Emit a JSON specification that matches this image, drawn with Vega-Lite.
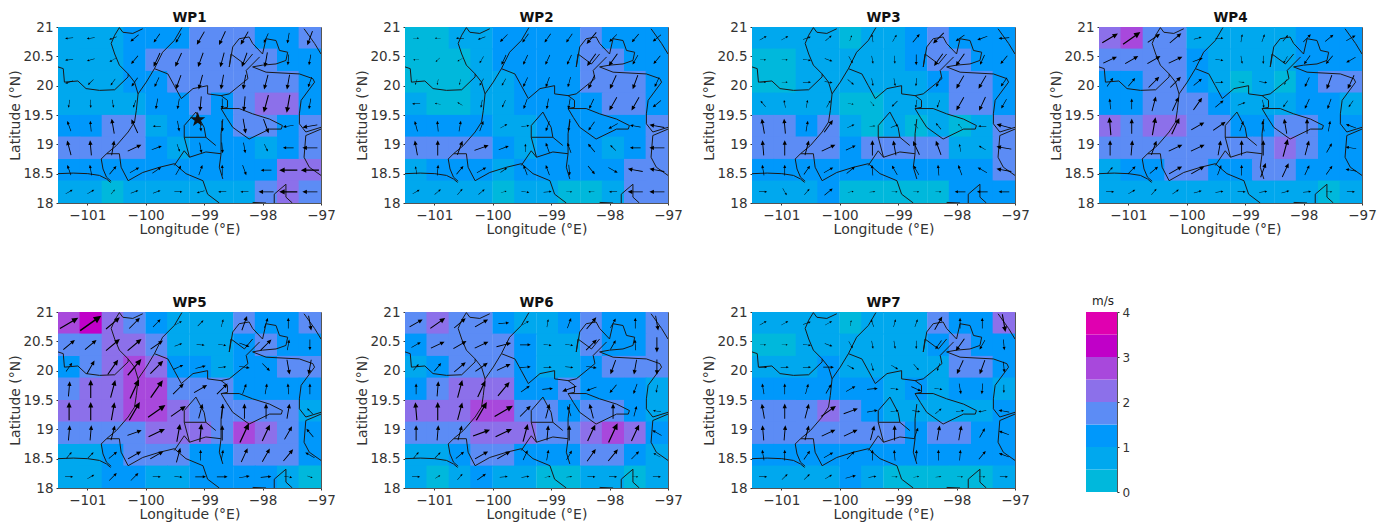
{"$schema":"https://vega.github.io/schema/vega-lite/v6.json","padding":{"left":8,"top":10,"right":5,"bottom":5},"background":"white","columns":4,"align":"none","bounds":"full","spacing":{"row":58,"column":19},
"config":{"font":"DejaVu Sans","view":{"stroke":"#555555","strokeWidth":1},"axis":{"grid":false,"labelFont":"DejaVu Sans","titleFont":"DejaVu Sans","labelFontSize":13.5,"titleFontSize":14,"titleFontWeight":"normal","labelColor":"#333333","titleColor":"#333333","domainColor":"#555555","tickColor":"#333333","tickSize":2,"labelPadding":3,"labelFlush":false,"labelOverlap":false},"axisX":{"titlePadding":1},"axisY":{"titlePadding":0},"title":{"font":"DejaVu Sans","fontSize":13.5,"fontWeight":"bold","color":"#111111","offset":-4}},
"datasets":{
"borders":[
{"id":1,"lon":-100.45,"lat":20.99},{"id":1,"lon":-100.53,"lat":20.86},{"id":1,"lon":-100.59,"lat":20.72},{"id":1,"lon":-100.53,"lat":20.54},{"id":1,"lon":-100.45,"lat":20.35},{"id":1,"lon":-100.3,"lat":20.2},{"id":1,"lon":-100.19,"lat":20.06},{"id":1,"lon":-100.13,"lat":19.86},{"id":1,"lon":-100.16,"lat":19.58},{"id":1,"lon":-100.19,"lat":19.38},{"id":1,"lon":-100.3,"lat":19.21},{"id":1,"lon":-100.5,"lat":18.98},{"id":1,"lon":-100.67,"lat":18.84},{"id":1,"lon":-100.76,"lat":18.75},{"id":1,"lon":-100.73,"lat":18.58},{"id":1,"lon":-100.67,"lat":18.44},{"id":1,"lon":-100.59,"lat":18.37},
{"id":2,"lon":-101.5,"lat":18.5},{"id":2,"lon":-101.24,"lat":18.51},{"id":2,"lon":-100.99,"lat":18.5},{"id":2,"lon":-100.79,"lat":18.47},{"id":2,"lon":-100.67,"lat":18.41},{"id":2,"lon":-100.6,"lat":18.35},
{"id":3,"lon":-101.5,"lat":20.32},{"id":3,"lon":-101.41,"lat":20.29},{"id":3,"lon":-101.39,"lat":20.06},{"id":3,"lon":-101.16,"lat":20.08},{"id":3,"lon":-101.02,"lat":19.95},{"id":3,"lon":-100.79,"lat":19.92},{"id":3,"lon":-100.53,"lat":19.93},{"id":3,"lon":-100.3,"lat":20.15},{"id":3,"lon":-100.3,"lat":20.2},
{"id":4,"lon":-100.13,"lat":19.86},{"id":4,"lon":-99.99,"lat":20.06},{"id":4,"lon":-99.85,"lat":20.29},{"id":4,"lon":-99.62,"lat":20.2},{"id":4,"lon":-99.51,"lat":20.0},{"id":4,"lon":-99.39,"lat":19.78},{"id":4,"lon":-99.19,"lat":19.95},{"id":4,"lon":-98.94,"lat":20.0},{"id":4,"lon":-98.94,"lat":19.86},{"id":4,"lon":-98.71,"lat":19.83},{"id":4,"lon":-98.6,"lat":19.75},{"id":4,"lon":-98.6,"lat":19.63},{"id":4,"lon":-98.71,"lat":19.61},{"id":4,"lon":-98.4,"lat":19.61},{"id":4,"lon":-98.17,"lat":19.52},{"id":4,"lon":-97.88,"lat":19.43},{"id":4,"lon":-97.66,"lat":19.32},{"id":4,"lon":-97.68,"lat":19.26},{"id":4,"lon":-97.88,"lat":19.26},{"id":4,"lon":-98.23,"lat":19.09},{"id":4,"lon":-98.51,"lat":19.29},{"id":4,"lon":-98.62,"lat":19.46},{"id":4,"lon":-98.71,"lat":19.61},
{"id":5,"lon":-99.34,"lat":19.12},{"id":5,"lon":-99.34,"lat":19.32},{"id":5,"lon":-99.14,"lat":19.55},{"id":5,"lon":-99.05,"lat":19.38},{"id":5,"lon":-99.0,"lat":19.29},{"id":5,"lon":-98.97,"lat":19.12},{"id":5,"lon":-98.8,"lat":18.98},
{"id":6,"lon":-98.97,"lat":19.12},{"id":6,"lon":-99.34,"lat":19.12},{"id":6,"lon":-99.25,"lat":18.78},{"id":6,"lon":-98.97,"lat":18.87},{"id":6,"lon":-98.71,"lat":18.84},
{"id":7,"lon":-99.51,"lat":18.64},{"id":7,"lon":-99.34,"lat":18.89},{"id":7,"lon":-99.25,"lat":18.78},
{"id":8,"lon":-98.68,"lat":19.43},{"id":8,"lon":-98.71,"lat":19.18},{"id":8,"lon":-98.71,"lat":18.84},{"id":8,"lon":-98.74,"lat":18.61},{"id":8,"lon":-98.68,"lat":18.41},
{"id":9,"lon":-100.67,"lat":18.84},{"id":9,"lon":-100.45,"lat":18.84},{"id":9,"lon":-100.42,"lat":18.61},{"id":9,"lon":-100.3,"lat":18.38},{"id":9,"lon":-100.05,"lat":18.52},{"id":9,"lon":-99.76,"lat":18.61},{"id":9,"lon":-99.51,"lat":18.67},{"id":9,"lon":-99.31,"lat":18.5},{"id":9,"lon":-99.02,"lat":18.38},{"id":9,"lon":-98.94,"lat":18.15},{"id":9,"lon":-98.74,"lat":18.0},
{"id":10,"lon":-99.38,"lat":20.99},{"id":10,"lon":-99.51,"lat":20.77},{"id":10,"lon":-99.71,"lat":20.57},{"id":10,"lon":-99.85,"lat":20.29},
{"id":11,"lon":-100.45,"lat":20.99},{"id":11,"lon":-100.39,"lat":20.91},{"id":11,"lon":-100.22,"lat":20.89},{"id":11,"lon":-100.05,"lat":20.97},
{"id":12,"lon":-98.57,"lat":20.32},{"id":12,"lon":-98.51,"lat":20.66},{"id":12,"lon":-98.4,"lat":20.8},{"id":12,"lon":-98.23,"lat":20.83},{"id":12,"lon":-98.17,"lat":20.72},{"id":12,"lon":-98.0,"lat":20.54},{"id":12,"lon":-97.94,"lat":20.8},{"id":12,"lon":-97.77,"lat":20.77},{"id":12,"lon":-97.71,"lat":20.6},{"id":12,"lon":-97.57,"lat":20.57},{"id":12,"lon":-97.6,"lat":20.43},{"id":12,"lon":-97.77,"lat":20.37},{"id":12,"lon":-98.0,"lat":20.35},{"id":12,"lon":-98.17,"lat":20.32},{"id":12,"lon":-97.94,"lat":20.23},{"id":12,"lon":-97.37,"lat":20.2},{"id":12,"lon":-97.14,"lat":20.12},{"id":12,"lon":-97.11,"lat":20.06},{"id":12,"lon":-97.34,"lat":19.75},{"id":12,"lon":-97.37,"lat":19.52},{"id":12,"lon":-97.37,"lat":19.35},{"id":12,"lon":-97.26,"lat":19.21},{"id":12,"lon":-97.0,"lat":19.29},
{"id":13,"lon":-98.57,"lat":20.32},{"id":13,"lon":-98.54,"lat":20.54},{"id":13,"lon":-98.31,"lat":20.37},{"id":13,"lon":-98.17,"lat":20.54},
{"id":14,"lon":-98.05,"lat":20.49},{"id":14,"lon":-98.28,"lat":20.26},{"id":14,"lon":-98.25,"lat":20.12},{"id":14,"lon":-98.57,"lat":19.86},{"id":14,"lon":-98.71,"lat":19.83},
{"id":15,"lon":-97.0,"lat":19.26},{"id":15,"lon":-97.26,"lat":19.15},{"id":15,"lon":-97.29,"lat":18.78},{"id":15,"lon":-97.2,"lat":18.61},{"id":15,"lon":-97.0,"lat":18.47},
{"id":16,"lon":-97.29,"lat":20.97},{"id":16,"lon":-97.11,"lat":20.72},{"id":16,"lon":-97.0,"lat":20.54},
{"id":17,"lon":-97.8,"lat":18.0},{"id":17,"lon":-97.8,"lat":18.15},{"id":17,"lon":-97.6,"lat":18.32},{"id":17,"lon":-97.6,"lat":18.1},{"id":17,"lon":-97.49,"lat":18.0},
{"id":18,"lon":-98.17,"lat":18.01},{"id":18,"lon":-97.94,"lat":18.0}],
"WP1":[
{"lon":-101.31,"lat":20.81,"s":0.8,"d":265},{"lon":-100.94,"lat":20.81,"s":0.8,"d":260},{"lon":-100.56,"lat":20.81,"s":0.8,"d":250},{"lon":-100.19,"lat":20.81,"s":1.2,"d":230},{"lon":-99.81,"lat":20.81,"s":1.2,"d":215},{"lon":-99.44,"lat":20.81,"s":1.2,"d":210},{"lon":-99.06,"lat":20.81,"s":1.8,"d":210},{"lon":-98.69,"lat":20.81,"s":1.8,"d":205},{"lon":-98.31,"lat":20.81,"s":1.8,"d":210},{"lon":-97.94,"lat":20.81,"s":1.2,"d":205},{"lon":-97.56,"lat":20.81,"s":1.2,"d":190},{"lon":-97.19,"lat":20.81,"s":1.8,"d":200},
{"lon":-101.31,"lat":20.44,"s":0.8,"d":265},{"lon":-100.94,"lat":20.44,"s":0.8,"d":255},{"lon":-100.56,"lat":20.44,"s":0.8,"d":240},{"lon":-100.19,"lat":20.44,"s":1.2,"d":220},{"lon":-99.81,"lat":20.44,"s":1.8,"d":205},{"lon":-99.44,"lat":20.44,"s":1.8,"d":205},{"lon":-99.06,"lat":20.44,"s":1.8,"d":200},{"lon":-98.69,"lat":20.44,"s":1.8,"d":195},{"lon":-98.31,"lat":20.44,"s":1.8,"d":200},{"lon":-97.94,"lat":20.44,"s":1.8,"d":190},{"lon":-97.56,"lat":20.44,"s":1.2,"d":185},{"lon":-97.19,"lat":20.44,"s":1.2,"d":190},
{"lon":-101.31,"lat":20.06,"s":0.8,"d":250},{"lon":-100.94,"lat":20.06,"s":0.8,"d":225},{"lon":-100.56,"lat":20.06,"s":0.8,"d":215},{"lon":-100.19,"lat":20.06,"s":1.2,"d":215},{"lon":-99.81,"lat":20.06,"s":1.2,"d":205},{"lon":-99.44,"lat":20.06,"s":1.8,"d":200},{"lon":-99.06,"lat":20.06,"s":1.8,"d":195},{"lon":-98.69,"lat":20.06,"s":1.8,"d":190},{"lon":-98.31,"lat":20.06,"s":1.8,"d":190},{"lon":-97.94,"lat":20.06,"s":1.8,"d":195},{"lon":-97.56,"lat":20.06,"s":1.8,"d":190},{"lon":-97.19,"lat":20.06,"s":1.2,"d":200},
{"lon":-101.31,"lat":19.69,"s":0.8,"d":190},{"lon":-100.94,"lat":19.69,"s":0.8,"d":180},{"lon":-100.56,"lat":19.69,"s":0.8,"d":170},{"lon":-100.19,"lat":19.69,"s":0.8,"d":200},{"lon":-99.81,"lat":19.69,"s":1.2,"d":190},{"lon":-99.44,"lat":19.69,"s":1.2,"d":190},{"lon":-99.06,"lat":19.69,"s":1.8,"d":185},{"lon":-98.69,"lat":19.69,"s":1.2,"d":180},{"lon":-98.31,"lat":19.69,"s":1.8,"d":185},{"lon":-97.94,"lat":19.69,"s":2.2,"d":195},{"lon":-97.56,"lat":19.69,"s":2.2,"d":190},{"lon":-97.19,"lat":19.69,"s":1.2,"d":190},
{"lon":-101.31,"lat":19.31,"s":1.2,"d":340},{"lon":-100.94,"lat":19.31,"s":1.2,"d":355},{"lon":-100.56,"lat":19.31,"s":1.8,"d":350},{"lon":-100.19,"lat":19.31,"s":1.8,"d":335},{"lon":-99.81,"lat":19.31,"s":0.8,"d":270},{"lon":-99.44,"lat":19.31,"s":1.2,"d":170},{"lon":-99.06,"lat":19.31,"s":1.2,"d":175},{"lon":-98.69,"lat":19.31,"s":1.2,"d":175},{"lon":-98.31,"lat":19.31,"s":1.8,"d":170},{"lon":-97.94,"lat":19.31,"s":1.8,"d":160},{"lon":-97.56,"lat":19.31,"s":1.2,"d":260},{"lon":-97.19,"lat":19.31,"s":1.8,"d":260},
{"lon":-101.31,"lat":18.94,"s":1.8,"d":345},{"lon":-100.94,"lat":18.94,"s":1.8,"d":355},{"lon":-100.56,"lat":18.94,"s":1.8,"d":10},{"lon":-100.19,"lat":18.94,"s":1.8,"d":65},{"lon":-99.81,"lat":18.94,"s":1.2,"d":70},{"lon":-99.44,"lat":18.94,"s":0.8,"d":160},{"lon":-99.06,"lat":18.94,"s":1.2,"d":170},{"lon":-98.69,"lat":18.94,"s":1.2,"d":175},{"lon":-98.31,"lat":18.94,"s":1.2,"d":170},{"lon":-97.94,"lat":18.94,"s":0.8,"d":155},{"lon":-97.56,"lat":18.94,"s":1.2,"d":270},{"lon":-97.19,"lat":18.94,"s":1.8,"d":270},
{"lon":-101.31,"lat":18.56,"s":1.2,"d":340},{"lon":-100.94,"lat":18.56,"s":1.2,"d":350},{"lon":-100.56,"lat":18.56,"s":1.2,"d":40},{"lon":-100.19,"lat":18.56,"s":1.2,"d":60},{"lon":-99.81,"lat":18.56,"s":1.2,"d":55},{"lon":-99.44,"lat":18.56,"s":1.2,"d":30},{"lon":-99.06,"lat":18.56,"s":1.2,"d":20},{"lon":-98.69,"lat":18.56,"s":1.2,"d":0},{"lon":-98.31,"lat":18.56,"s":1.2,"d":160},{"lon":-97.94,"lat":18.56,"s":1.2,"d":270},{"lon":-97.56,"lat":18.56,"s":2.2,"d":270},{"lon":-97.19,"lat":18.56,"s":2.2,"d":270},
{"lon":-101.31,"lat":18.19,"s":0.8,"d":60},{"lon":-100.94,"lat":18.19,"s":0.8,"d":60},{"lon":-100.56,"lat":18.19,"s":0.4,"d":40},{"lon":-100.19,"lat":18.19,"s":0.8,"d":70},{"lon":-99.81,"lat":18.19,"s":0.8,"d":70},{"lon":-99.44,"lat":18.19,"s":0.8,"d":90},{"lon":-99.06,"lat":18.19,"s":0.8,"d":255},{"lon":-98.69,"lat":18.19,"s":0.8,"d":270},{"lon":-98.31,"lat":18.19,"s":0.8,"d":270},{"lon":-97.94,"lat":18.19,"s":1.8,"d":270},{"lon":-97.56,"lat":18.19,"s":2.2,"d":270},{"lon":-97.19,"lat":18.19,"s":1.8,"d":270}],
"WP2":[
{"lon":-101.31,"lat":20.81,"s":0.4,"d":90},{"lon":-100.94,"lat":20.81,"s":0.4,"d":270},{"lon":-100.56,"lat":20.81,"s":0.8,"d":270},{"lon":-100.19,"lat":20.81,"s":0.8,"d":250},{"lon":-99.81,"lat":20.81,"s":1.2,"d":225},{"lon":-99.44,"lat":20.81,"s":1.2,"d":215},{"lon":-99.06,"lat":20.81,"s":1.2,"d":215},{"lon":-98.69,"lat":20.81,"s":1.2,"d":215},{"lon":-98.31,"lat":20.81,"s":1.8,"d":220},{"lon":-97.94,"lat":20.81,"s":1.2,"d":225},{"lon":-97.56,"lat":20.81,"s":1.2,"d":220},{"lon":-97.19,"lat":20.81,"s":1.2,"d":230},
{"lon":-101.31,"lat":20.44,"s":0.4,"d":270},{"lon":-100.94,"lat":20.44,"s":0.4,"d":225},{"lon":-100.56,"lat":20.44,"s":0.4,"d":240},{"lon":-100.19,"lat":20.44,"s":0.8,"d":210},{"lon":-99.81,"lat":20.44,"s":1.2,"d":205},{"lon":-99.44,"lat":20.44,"s":1.2,"d":205},{"lon":-99.06,"lat":20.44,"s":1.2,"d":205},{"lon":-98.69,"lat":20.44,"s":1.2,"d":205},{"lon":-98.31,"lat":20.44,"s":1.8,"d":215},{"lon":-97.94,"lat":20.44,"s":1.8,"d":215},{"lon":-97.56,"lat":20.44,"s":1.2,"d":210},{"lon":-97.19,"lat":20.44,"s":1.2,"d":220},
{"lon":-101.31,"lat":20.06,"s":0.4,"d":200},{"lon":-100.94,"lat":20.06,"s":0.4,"d":190},{"lon":-100.56,"lat":20.06,"s":0.4,"d":190},{"lon":-100.19,"lat":20.06,"s":0.8,"d":210},{"lon":-99.81,"lat":20.06,"s":0.8,"d":210},{"lon":-99.44,"lat":20.06,"s":1.2,"d":205},{"lon":-99.06,"lat":20.06,"s":1.2,"d":200},{"lon":-98.69,"lat":20.06,"s":1.2,"d":195},{"lon":-98.31,"lat":20.06,"s":1.8,"d":205},{"lon":-97.94,"lat":20.06,"s":1.8,"d":205},{"lon":-97.56,"lat":20.06,"s":1.8,"d":200},{"lon":-97.19,"lat":20.06,"s":1.2,"d":205},
{"lon":-101.31,"lat":19.69,"s":0.8,"d":270},{"lon":-100.94,"lat":19.69,"s":0.4,"d":280},{"lon":-100.56,"lat":19.69,"s":0.4,"d":300},{"lon":-100.19,"lat":19.69,"s":0.8,"d":190},{"lon":-99.81,"lat":19.69,"s":0.8,"d":205},{"lon":-99.44,"lat":19.69,"s":1.2,"d":200},{"lon":-99.06,"lat":19.69,"s":1.2,"d":190},{"lon":-98.69,"lat":19.69,"s":1.2,"d":190},{"lon":-98.31,"lat":19.69,"s":1.2,"d":205},{"lon":-97.94,"lat":19.69,"s":1.8,"d":210},{"lon":-97.56,"lat":19.69,"s":1.8,"d":210},{"lon":-97.19,"lat":19.69,"s":1.2,"d":230},
{"lon":-101.31,"lat":19.31,"s":1.2,"d":345},{"lon":-100.94,"lat":19.31,"s":1.2,"d":355},{"lon":-100.56,"lat":19.31,"s":1.2,"d":10},{"lon":-100.19,"lat":19.31,"s":1.2,"d":20},{"lon":-99.81,"lat":19.31,"s":0.8,"d":60},{"lon":-99.44,"lat":19.31,"s":0.8,"d":80},{"lon":-99.06,"lat":19.31,"s":1.2,"d":200},{"lon":-98.69,"lat":19.31,"s":1.2,"d":190},{"lon":-98.31,"lat":19.31,"s":1.2,"d":215},{"lon":-97.94,"lat":19.31,"s":1.2,"d":240},{"lon":-97.56,"lat":19.31,"s":1.2,"d":280},{"lon":-97.19,"lat":19.31,"s":1.8,"d":280},
{"lon":-101.31,"lat":18.94,"s":1.8,"d":350},{"lon":-100.94,"lat":18.94,"s":1.8,"d":0},{"lon":-100.56,"lat":18.94,"s":1.8,"d":20},{"lon":-100.19,"lat":18.94,"s":1.8,"d":70},{"lon":-99.81,"lat":18.94,"s":1.2,"d":70},{"lon":-99.44,"lat":18.94,"s":0.8,"d":0},{"lon":-99.06,"lat":18.94,"s":1.2,"d":340},{"lon":-98.69,"lat":18.94,"s":1.2,"d":340},{"lon":-98.31,"lat":18.94,"s":1.2,"d":320},{"lon":-97.94,"lat":18.94,"s":0.8,"d":315},{"lon":-97.56,"lat":18.94,"s":1.2,"d":270},{"lon":-97.19,"lat":18.94,"s":1.8,"d":270},
{"lon":-101.31,"lat":18.56,"s":0.8,"d":350},{"lon":-100.94,"lat":18.56,"s":1.2,"d":5},{"lon":-100.56,"lat":18.56,"s":1.2,"d":40},{"lon":-100.19,"lat":18.56,"s":1.2,"d":60},{"lon":-99.81,"lat":18.56,"s":0.8,"d":55},{"lon":-99.44,"lat":18.56,"s":1.2,"d":340},{"lon":-99.06,"lat":18.56,"s":1.2,"d":340},{"lon":-98.69,"lat":18.56,"s":1.2,"d":175},{"lon":-98.31,"lat":18.56,"s":1.2,"d":140},{"lon":-97.94,"lat":18.56,"s":1.2,"d":120},{"lon":-97.56,"lat":18.56,"s":1.8,"d":280},{"lon":-97.19,"lat":18.56,"s":1.8,"d":280},
{"lon":-101.31,"lat":18.19,"s":0.8,"d":60},{"lon":-100.94,"lat":18.19,"s":0.8,"d":50},{"lon":-100.56,"lat":18.19,"s":0.8,"d":40},{"lon":-100.19,"lat":18.19,"s":0.8,"d":50},{"lon":-99.81,"lat":18.19,"s":0.4,"d":75},{"lon":-99.44,"lat":18.19,"s":0.8,"d":100},{"lon":-99.06,"lat":18.19,"s":0.8,"d":85},{"lon":-98.69,"lat":18.19,"s":0.4,"d":90},{"lon":-98.31,"lat":18.19,"s":0.4,"d":270},{"lon":-97.94,"lat":18.19,"s":0.8,"d":270},{"lon":-97.56,"lat":18.19,"s":1.8,"d":270},{"lon":-97.19,"lat":18.19,"s":1.8,"d":270}],
"WP3":[
{"lon":-101.31,"lat":20.81,"s":0.8,"d":60},{"lon":-100.94,"lat":20.81,"s":0.8,"d":60},{"lon":-100.56,"lat":20.81,"s":0.8,"d":70},{"lon":-100.19,"lat":20.81,"s":0.8,"d":50},{"lon":-99.81,"lat":20.81,"s":0.4,"d":20},{"lon":-99.44,"lat":20.81,"s":0.8,"d":350},{"lon":-99.06,"lat":20.81,"s":0.8,"d":30},{"lon":-98.69,"lat":20.81,"s":1.2,"d":40},{"lon":-98.31,"lat":20.81,"s":1.8,"d":225},{"lon":-97.94,"lat":20.81,"s":1.2,"d":235},{"lon":-97.56,"lat":20.81,"s":1.2,"d":250},{"lon":-97.19,"lat":20.81,"s":1.2,"d":265},
{"lon":-101.31,"lat":20.44,"s":0.4,"d":90},{"lon":-100.94,"lat":20.44,"s":0.4,"d":90},{"lon":-100.56,"lat":20.44,"s":0.8,"d":100},{"lon":-100.19,"lat":20.44,"s":0.8,"d":110},{"lon":-99.81,"lat":20.44,"s":0.8,"d":150},{"lon":-99.44,"lat":20.44,"s":0.8,"d":170},{"lon":-99.06,"lat":20.44,"s":0.8,"d":175},{"lon":-98.69,"lat":20.44,"s":1.2,"d":180},{"lon":-98.31,"lat":20.44,"s":1.8,"d":215},{"lon":-97.94,"lat":20.44,"s":1.8,"d":215},{"lon":-97.56,"lat":20.44,"s":1.2,"d":205},{"lon":-97.19,"lat":20.44,"s":1.2,"d":220},
{"lon":-101.31,"lat":20.06,"s":0.4,"d":90},{"lon":-100.94,"lat":20.06,"s":0.4,"d":90},{"lon":-100.56,"lat":20.06,"s":0.8,"d":90},{"lon":-100.19,"lat":20.06,"s":0.8,"d":100},{"lon":-99.81,"lat":20.06,"s":0.8,"d":130},{"lon":-99.44,"lat":20.06,"s":0.8,"d":170},{"lon":-99.06,"lat":20.06,"s":0.8,"d":170},{"lon":-98.69,"lat":20.06,"s":0.8,"d":185},{"lon":-98.31,"lat":20.06,"s":1.2,"d":205},{"lon":-97.94,"lat":20.06,"s":1.8,"d":210},{"lon":-97.56,"lat":20.06,"s":1.8,"d":210},{"lon":-97.19,"lat":20.06,"s":1.2,"d":215},
{"lon":-101.31,"lat":19.69,"s":0.8,"d":320},{"lon":-100.94,"lat":19.69,"s":0.8,"d":350},{"lon":-100.56,"lat":19.69,"s":0.8,"d":10},{"lon":-100.19,"lat":19.69,"s":0.8,"d":30},{"lon":-99.81,"lat":19.69,"s":0.4,"d":100},{"lon":-99.44,"lat":19.69,"s":0.4,"d":140},{"lon":-99.06,"lat":19.69,"s":0.8,"d":225},{"lon":-98.69,"lat":19.69,"s":0.8,"d":190},{"lon":-98.31,"lat":19.69,"s":0.8,"d":200},{"lon":-97.94,"lat":19.69,"s":1.8,"d":210},{"lon":-97.56,"lat":19.69,"s":1.8,"d":205},{"lon":-97.19,"lat":19.69,"s":1.2,"d":210},
{"lon":-101.31,"lat":19.31,"s":1.8,"d":350},{"lon":-100.94,"lat":19.31,"s":1.8,"d":355},{"lon":-100.56,"lat":19.31,"s":1.2,"d":10},{"lon":-100.19,"lat":19.31,"s":1.8,"d":35},{"lon":-99.81,"lat":19.31,"s":0.8,"d":65},{"lon":-99.44,"lat":19.31,"s":0.4,"d":85},{"lon":-99.06,"lat":19.31,"s":0.8,"d":70},{"lon":-98.69,"lat":19.31,"s":0.4,"d":320},{"lon":-98.31,"lat":19.31,"s":0.8,"d":320},{"lon":-97.94,"lat":19.31,"s":0.4,"d":320},{"lon":-97.56,"lat":19.31,"s":0.8,"d":270},{"lon":-97.19,"lat":19.31,"s":1.8,"d":285},
{"lon":-101.31,"lat":18.94,"s":1.8,"d":355},{"lon":-100.94,"lat":18.94,"s":1.8,"d":0},{"lon":-100.56,"lat":18.94,"s":1.8,"d":15},{"lon":-100.19,"lat":18.94,"s":1.8,"d":65},{"lon":-99.81,"lat":18.94,"s":1.2,"d":65},{"lon":-99.44,"lat":18.94,"s":1.8,"d":0},{"lon":-99.06,"lat":18.94,"s":1.8,"d":350},{"lon":-98.69,"lat":18.94,"s":1.8,"d":335},{"lon":-98.31,"lat":18.94,"s":1.8,"d":340},{"lon":-97.94,"lat":18.94,"s":0.8,"d":350},{"lon":-97.56,"lat":18.94,"s":0.8,"d":300},{"lon":-97.19,"lat":18.94,"s":1.8,"d":280},
{"lon":-101.31,"lat":18.56,"s":1.2,"d":350},{"lon":-100.94,"lat":18.56,"s":1.2,"d":0},{"lon":-100.56,"lat":18.56,"s":1.2,"d":35},{"lon":-100.19,"lat":18.56,"s":1.2,"d":60},{"lon":-99.81,"lat":18.56,"s":1.2,"d":50},{"lon":-99.44,"lat":18.56,"s":1.2,"d":355},{"lon":-99.06,"lat":18.56,"s":1.2,"d":330},{"lon":-98.69,"lat":18.56,"s":1.2,"d":330},{"lon":-98.31,"lat":18.56,"s":1.2,"d":355},{"lon":-97.94,"lat":18.56,"s":1.2,"d":340},{"lon":-97.56,"lat":18.56,"s":1.2,"d":300},{"lon":-97.19,"lat":18.56,"s":1.8,"d":280},
{"lon":-101.31,"lat":18.19,"s":0.8,"d":90},{"lon":-100.94,"lat":18.19,"s":0.8,"d":150},{"lon":-100.56,"lat":18.19,"s":0.8,"d":40},{"lon":-100.19,"lat":18.19,"s":1.2,"d":50},{"lon":-99.81,"lat":18.19,"s":0.4,"d":80},{"lon":-99.44,"lat":18.19,"s":0.4,"d":85},{"lon":-99.06,"lat":18.19,"s":0.4,"d":90},{"lon":-98.69,"lat":18.19,"s":0.4,"d":90},{"lon":-98.31,"lat":18.19,"s":0.4,"d":90},{"lon":-97.94,"lat":18.19,"s":1.2,"d":270},{"lon":-97.56,"lat":18.19,"s":1.2,"d":270},{"lon":-97.19,"lat":18.19,"s":1.2,"d":270}],
"WP4":[
{"lon":-101.31,"lat":20.81,"s":2.2,"d":60},{"lon":-100.94,"lat":20.81,"s":2.6,"d":55},{"lon":-100.56,"lat":20.81,"s":1.8,"d":55},{"lon":-100.19,"lat":20.81,"s":1.8,"d":50},{"lon":-99.81,"lat":20.81,"s":0.8,"d":75},{"lon":-99.44,"lat":20.81,"s":0.8,"d":90},{"lon":-99.06,"lat":20.81,"s":0.8,"d":10},{"lon":-98.69,"lat":20.81,"s":0.8,"d":20},{"lon":-98.31,"lat":20.81,"s":0.8,"d":40},{"lon":-97.94,"lat":20.81,"s":1.2,"d":45},{"lon":-97.56,"lat":20.81,"s":1.2,"d":50},{"lon":-97.19,"lat":20.81,"s":1.2,"d":60},
{"lon":-101.31,"lat":20.44,"s":1.8,"d":65},{"lon":-100.94,"lat":20.44,"s":1.8,"d":60},{"lon":-100.56,"lat":20.44,"s":1.8,"d":60},{"lon":-100.19,"lat":20.44,"s":1.8,"d":65},{"lon":-99.81,"lat":20.44,"s":1.2,"d":70},{"lon":-99.44,"lat":20.44,"s":0.8,"d":100},{"lon":-99.06,"lat":20.44,"s":0.8,"d":170},{"lon":-98.69,"lat":20.44,"s":0.8,"d":180},{"lon":-98.31,"lat":20.44,"s":0.8,"d":210},{"lon":-97.94,"lat":20.44,"s":1.2,"d":215},{"lon":-97.56,"lat":20.44,"s":1.2,"d":220},{"lon":-97.19,"lat":20.44,"s":1.2,"d":240},
{"lon":-101.31,"lat":20.06,"s":1.2,"d":35},{"lon":-100.94,"lat":20.06,"s":1.2,"d":40},{"lon":-100.56,"lat":20.06,"s":1.8,"d":45},{"lon":-100.19,"lat":20.06,"s":1.8,"d":45},{"lon":-99.81,"lat":20.06,"s":1.2,"d":50},{"lon":-99.44,"lat":20.06,"s":0.8,"d":90},{"lon":-99.06,"lat":20.06,"s":0.4,"d":95},{"lon":-98.69,"lat":20.06,"s":0.8,"d":100},{"lon":-98.31,"lat":20.06,"s":0.4,"d":200},{"lon":-97.94,"lat":20.06,"s":1.2,"d":205},{"lon":-97.56,"lat":20.06,"s":1.8,"d":200},{"lon":-97.19,"lat":20.06,"s":1.8,"d":205},
{"lon":-101.31,"lat":19.69,"s":1.2,"d":355},{"lon":-100.94,"lat":19.69,"s":1.2,"d":0},{"lon":-100.56,"lat":19.69,"s":1.8,"d":15},{"lon":-100.19,"lat":19.69,"s":1.8,"d":25},{"lon":-99.81,"lat":19.69,"s":1.8,"d":35},{"lon":-99.44,"lat":19.69,"s":1.2,"d":50},{"lon":-99.06,"lat":19.69,"s":0.8,"d":70},{"lon":-98.69,"lat":19.69,"s":0.8,"d":170},{"lon":-98.31,"lat":19.69,"s":0.8,"d":215},{"lon":-97.94,"lat":19.69,"s":1.2,"d":205},{"lon":-97.56,"lat":19.69,"s":1.2,"d":200},{"lon":-97.19,"lat":19.69,"s":0.8,"d":215},
{"lon":-101.31,"lat":19.31,"s":2.2,"d":355},{"lon":-100.94,"lat":19.31,"s":1.8,"d":0},{"lon":-100.56,"lat":19.31,"s":2.2,"d":10},{"lon":-100.19,"lat":19.31,"s":2.2,"d":25},{"lon":-99.81,"lat":19.31,"s":1.8,"d":60},{"lon":-99.44,"lat":19.31,"s":1.8,"d":55},{"lon":-99.06,"lat":19.31,"s":1.2,"d":20},{"lon":-98.69,"lat":19.31,"s":1.2,"d":350},{"lon":-98.31,"lat":19.31,"s":1.8,"d":350},{"lon":-97.94,"lat":19.31,"s":1.8,"d":0},{"lon":-97.56,"lat":19.31,"s":1.2,"d":10},{"lon":-97.19,"lat":19.31,"s":1.2,"d":290},
{"lon":-101.31,"lat":18.94,"s":1.8,"d":0},{"lon":-100.94,"lat":18.94,"s":1.8,"d":5},{"lon":-100.56,"lat":18.94,"s":1.8,"d":20},{"lon":-100.19,"lat":18.94,"s":1.8,"d":65},{"lon":-99.81,"lat":18.94,"s":1.8,"d":65},{"lon":-99.44,"lat":18.94,"s":1.8,"d":10},{"lon":-99.06,"lat":18.94,"s":1.8,"d":0},{"lon":-98.69,"lat":18.94,"s":1.8,"d":0},{"lon":-98.31,"lat":18.94,"s":2.2,"d":15},{"lon":-97.94,"lat":18.94,"s":1.8,"d":15},{"lon":-97.56,"lat":18.94,"s":1.2,"d":30},{"lon":-97.19,"lat":18.94,"s":1.2,"d":280},
{"lon":-101.31,"lat":18.56,"s":0.8,"d":40},{"lon":-100.94,"lat":18.56,"s":1.2,"d":45},{"lon":-100.56,"lat":18.56,"s":1.2,"d":50},{"lon":-100.19,"lat":18.56,"s":1.8,"d":60},{"lon":-99.81,"lat":18.56,"s":1.8,"d":60},{"lon":-99.44,"lat":18.56,"s":1.2,"d":20},{"lon":-99.06,"lat":18.56,"s":1.2,"d":0},{"lon":-98.69,"lat":18.56,"s":1.8,"d":20},{"lon":-98.31,"lat":18.56,"s":1.8,"d":25},{"lon":-97.94,"lat":18.56,"s":1.2,"d":25},{"lon":-97.56,"lat":18.56,"s":1.2,"d":35},{"lon":-97.19,"lat":18.56,"s":1.2,"d":280},
{"lon":-101.31,"lat":18.19,"s":0.8,"d":90},{"lon":-100.94,"lat":18.19,"s":0.8,"d":60},{"lon":-100.56,"lat":18.19,"s":0.8,"d":40},{"lon":-100.19,"lat":18.19,"s":0.8,"d":55},{"lon":-99.81,"lat":18.19,"s":0.8,"d":75},{"lon":-99.44,"lat":18.19,"s":0.8,"d":80},{"lon":-99.06,"lat":18.19,"s":0.8,"d":90},{"lon":-98.69,"lat":18.19,"s":0.8,"d":80},{"lon":-98.31,"lat":18.19,"s":0.8,"d":75},{"lon":-97.94,"lat":18.19,"s":0.8,"d":85},{"lon":-97.56,"lat":18.19,"s":0.4,"d":90},{"lon":-97.19,"lat":18.19,"s":0.8,"d":90}],
"WP5":[
{"lon":-101.31,"lat":20.81,"s":2.6,"d":60},{"lon":-100.94,"lat":20.81,"s":3.2,"d":55},{"lon":-100.56,"lat":20.81,"s":2.2,"d":50},{"lon":-100.19,"lat":20.81,"s":1.8,"d":45},{"lon":-99.81,"lat":20.81,"s":1.2,"d":45},{"lon":-99.44,"lat":20.81,"s":0.8,"d":60},{"lon":-99.06,"lat":20.81,"s":0.8,"d":45},{"lon":-98.69,"lat":20.81,"s":0.8,"d":15},{"lon":-98.31,"lat":20.81,"s":1.8,"d":20},{"lon":-97.94,"lat":20.81,"s":1.2,"d":20},{"lon":-97.56,"lat":20.81,"s":1.2,"d":0},{"lon":-97.19,"lat":20.81,"s":1.8,"d":170},
{"lon":-101.31,"lat":20.44,"s":1.8,"d":50},{"lon":-100.94,"lat":20.44,"s":1.8,"d":50},{"lon":-100.56,"lat":20.44,"s":2.2,"d":50},{"lon":-100.19,"lat":20.44,"s":2.2,"d":50},{"lon":-99.81,"lat":20.44,"s":1.8,"d":55},{"lon":-99.44,"lat":20.44,"s":0.8,"d":70},{"lon":-99.06,"lat":20.44,"s":0.8,"d":95},{"lon":-98.69,"lat":20.44,"s":0.8,"d":100},{"lon":-98.31,"lat":20.44,"s":1.2,"d":110},{"lon":-97.94,"lat":20.44,"s":1.8,"d":45},{"lon":-97.56,"lat":20.44,"s":1.2,"d":10},{"lon":-97.19,"lat":20.44,"s":1.2,"d":180},
{"lon":-101.31,"lat":20.06,"s":1.2,"d":35},{"lon":-100.94,"lat":20.06,"s":1.8,"d":30},{"lon":-100.56,"lat":20.06,"s":2.2,"d":35},{"lon":-100.19,"lat":20.06,"s":2.6,"d":40},{"lon":-99.81,"lat":20.06,"s":2.2,"d":45},{"lon":-99.44,"lat":20.06,"s":1.2,"d":65},{"lon":-99.06,"lat":20.06,"s":1.2,"d":75},{"lon":-98.69,"lat":20.06,"s":0.8,"d":85},{"lon":-98.31,"lat":20.06,"s":1.2,"d":100},{"lon":-97.94,"lat":20.06,"s":1.2,"d":135},{"lon":-97.56,"lat":20.06,"s":1.8,"d":170},{"lon":-97.19,"lat":20.06,"s":1.8,"d":190},
{"lon":-101.31,"lat":19.69,"s":1.8,"d":5},{"lon":-100.94,"lat":19.69,"s":2.2,"d":0},{"lon":-100.56,"lat":19.69,"s":2.2,"d":15},{"lon":-100.19,"lat":19.69,"s":2.6,"d":25},{"lon":-99.81,"lat":19.69,"s":2.6,"d":35},{"lon":-99.44,"lat":19.69,"s":1.8,"d":45},{"lon":-99.06,"lat":19.69,"s":1.8,"d":60},{"lon":-98.69,"lat":19.69,"s":1.8,"d":45},{"lon":-98.31,"lat":19.69,"s":1.2,"d":20},{"lon":-97.94,"lat":19.69,"s":1.2,"d":10},{"lon":-97.56,"lat":19.69,"s":1.2,"d":355},{"lon":-97.19,"lat":19.69,"s":1.2,"d":0},
{"lon":-101.31,"lat":19.31,"s":2.2,"d":0},{"lon":-100.94,"lat":19.31,"s":2.2,"d":0},{"lon":-100.56,"lat":19.31,"s":2.2,"d":10},{"lon":-100.19,"lat":19.31,"s":2.6,"d":30},{"lon":-99.81,"lat":19.31,"s":2.6,"d":55},{"lon":-99.44,"lat":19.31,"s":2.2,"d":55},{"lon":-99.06,"lat":19.31,"s":1.8,"d":15},{"lon":-98.69,"lat":19.31,"s":1.8,"d":5},{"lon":-98.31,"lat":19.31,"s":1.8,"d":0},{"lon":-97.94,"lat":19.31,"s":1.8,"d":0},{"lon":-97.56,"lat":19.31,"s":1.8,"d":10},{"lon":-97.19,"lat":19.31,"s":0.8,"d":315},
{"lon":-101.31,"lat":18.94,"s":1.8,"d":5},{"lon":-100.94,"lat":18.94,"s":1.8,"d":5},{"lon":-100.56,"lat":18.94,"s":1.8,"d":15},{"lon":-100.19,"lat":18.94,"s":1.8,"d":70},{"lon":-99.81,"lat":18.94,"s":2.2,"d":65},{"lon":-99.44,"lat":18.94,"s":2.2,"d":10},{"lon":-99.06,"lat":18.94,"s":2.2,"d":5},{"lon":-98.69,"lat":18.94,"s":1.8,"d":0},{"lon":-98.31,"lat":18.94,"s":2.6,"d":25},{"lon":-97.94,"lat":18.94,"s":2.2,"d":25},{"lon":-97.56,"lat":18.94,"s":1.8,"d":30},{"lon":-97.19,"lat":18.94,"s":1.2,"d":320},
{"lon":-101.31,"lat":18.56,"s":0.8,"d":40},{"lon":-100.94,"lat":18.56,"s":0.8,"d":45},{"lon":-100.56,"lat":18.56,"s":1.2,"d":50},{"lon":-100.19,"lat":18.56,"s":1.8,"d":60},{"lon":-99.81,"lat":18.56,"s":1.8,"d":60},{"lon":-99.44,"lat":18.56,"s":1.8,"d":15},{"lon":-99.06,"lat":18.56,"s":1.2,"d":0},{"lon":-98.69,"lat":18.56,"s":1.2,"d":10},{"lon":-98.31,"lat":18.56,"s":1.8,"d":25},{"lon":-97.94,"lat":18.56,"s":1.8,"d":30},{"lon":-97.56,"lat":18.56,"s":1.8,"d":40},{"lon":-97.19,"lat":18.56,"s":1.2,"d":300},
{"lon":-101.31,"lat":18.19,"s":0.8,"d":90},{"lon":-100.94,"lat":18.19,"s":0.8,"d":60},{"lon":-100.56,"lat":18.19,"s":1.2,"d":45},{"lon":-100.19,"lat":18.19,"s":1.2,"d":45},{"lon":-99.81,"lat":18.19,"s":0.8,"d":90},{"lon":-99.44,"lat":18.19,"s":0.8,"d":95},{"lon":-99.06,"lat":18.19,"s":1.2,"d":90},{"lon":-98.69,"lat":18.19,"s":1.2,"d":90},{"lon":-98.31,"lat":18.19,"s":1.2,"d":80},{"lon":-97.94,"lat":18.19,"s":1.2,"d":85},{"lon":-97.56,"lat":18.19,"s":0.8,"d":100},{"lon":-97.19,"lat":18.19,"s":0.4,"d":110}],
"WP6":[
{"lon":-101.31,"lat":20.81,"s":1.8,"d":60},{"lon":-100.94,"lat":20.81,"s":2.2,"d":55},{"lon":-100.56,"lat":20.81,"s":1.8,"d":50},{"lon":-100.19,"lat":20.81,"s":1.8,"d":60},{"lon":-99.81,"lat":20.81,"s":1.2,"d":85},{"lon":-99.44,"lat":20.81,"s":0.8,"d":60},{"lon":-99.06,"lat":20.81,"s":0.8,"d":10},{"lon":-98.69,"lat":20.81,"s":1.2,"d":20},{"lon":-98.31,"lat":20.81,"s":1.8,"d":40},{"lon":-97.94,"lat":20.81,"s":1.2,"d":30},{"lon":-97.56,"lat":20.81,"s":1.2,"d":0},{"lon":-97.19,"lat":20.81,"s":1.8,"d":170},
{"lon":-101.31,"lat":20.44,"s":1.2,"d":60},{"lon":-100.94,"lat":20.44,"s":1.8,"d":65},{"lon":-100.56,"lat":20.44,"s":1.8,"d":60},{"lon":-100.19,"lat":20.44,"s":1.8,"d":65},{"lon":-99.81,"lat":20.44,"s":1.8,"d":75},{"lon":-99.44,"lat":20.44,"s":1.2,"d":90},{"lon":-99.06,"lat":20.44,"s":0.8,"d":100},{"lon":-98.69,"lat":20.44,"s":0.8,"d":100},{"lon":-98.31,"lat":20.44,"s":1.8,"d":45},{"lon":-97.94,"lat":20.44,"s":1.2,"d":30},{"lon":-97.56,"lat":20.44,"s":1.2,"d":355},{"lon":-97.19,"lat":20.44,"s":1.8,"d":180},
{"lon":-101.31,"lat":20.06,"s":0.8,"d":40},{"lon":-100.94,"lat":20.06,"s":1.2,"d":40},{"lon":-100.56,"lat":20.06,"s":1.8,"d":50},{"lon":-100.19,"lat":20.06,"s":1.8,"d":55},{"lon":-99.81,"lat":20.06,"s":1.8,"d":65},{"lon":-99.44,"lat":20.06,"s":1.2,"d":85},{"lon":-99.06,"lat":20.06,"s":0.8,"d":90},{"lon":-98.69,"lat":20.06,"s":0.8,"d":95},{"lon":-98.31,"lat":20.06,"s":1.2,"d":100},{"lon":-97.94,"lat":20.06,"s":1.8,"d":200},{"lon":-97.56,"lat":20.06,"s":1.8,"d":190},{"lon":-97.19,"lat":20.06,"s":1.8,"d":180},
{"lon":-101.31,"lat":19.69,"s":1.2,"d":0},{"lon":-100.94,"lat":19.69,"s":1.8,"d":5},{"lon":-100.56,"lat":19.69,"s":2.2,"d":15},{"lon":-100.19,"lat":19.69,"s":2.2,"d":25},{"lon":-99.81,"lat":19.69,"s":2.2,"d":40},{"lon":-99.44,"lat":19.69,"s":1.2,"d":55},{"lon":-99.06,"lat":19.69,"s":1.2,"d":85},{"lon":-98.69,"lat":19.69,"s":1.8,"d":250},{"lon":-98.31,"lat":19.69,"s":1.2,"d":250},{"lon":-97.94,"lat":19.69,"s":1.2,"d":220},{"lon":-97.56,"lat":19.69,"s":1.2,"d":200},{"lon":-97.19,"lat":19.69,"s":0.8,"d":190},
{"lon":-101.31,"lat":19.31,"s":2.2,"d":355},{"lon":-100.94,"lat":19.31,"s":2.2,"d":0},{"lon":-100.56,"lat":19.31,"s":2.2,"d":15},{"lon":-100.19,"lat":19.31,"s":2.6,"d":30},{"lon":-99.81,"lat":19.31,"s":2.6,"d":60},{"lon":-99.44,"lat":19.31,"s":1.8,"d":45},{"lon":-99.06,"lat":19.31,"s":1.8,"d":15},{"lon":-98.69,"lat":19.31,"s":1.2,"d":340},{"lon":-98.31,"lat":19.31,"s":1.8,"d":345},{"lon":-97.94,"lat":19.31,"s":1.8,"d":0},{"lon":-97.56,"lat":19.31,"s":1.2,"d":15},{"lon":-97.19,"lat":19.31,"s":0.8,"d":280},
{"lon":-101.31,"lat":18.94,"s":1.8,"d":0},{"lon":-100.94,"lat":18.94,"s":1.8,"d":5},{"lon":-100.56,"lat":18.94,"s":1.8,"d":15},{"lon":-100.19,"lat":18.94,"s":2.2,"d":70},{"lon":-99.81,"lat":18.94,"s":2.2,"d":65},{"lon":-99.44,"lat":18.94,"s":2.2,"d":15},{"lon":-99.06,"lat":18.94,"s":1.8,"d":5},{"lon":-98.69,"lat":18.94,"s":1.8,"d":0},{"lon":-98.31,"lat":18.94,"s":2.2,"d":25},{"lon":-97.94,"lat":18.94,"s":2.6,"d":25},{"lon":-97.56,"lat":18.94,"s":2.2,"d":25},{"lon":-97.19,"lat":18.94,"s":1.2,"d":300},
{"lon":-101.31,"lat":18.56,"s":0.8,"d":40},{"lon":-100.94,"lat":18.56,"s":0.8,"d":45},{"lon":-100.56,"lat":18.56,"s":1.2,"d":50},{"lon":-100.19,"lat":18.56,"s":1.8,"d":60},{"lon":-99.81,"lat":18.56,"s":1.8,"d":60},{"lon":-99.44,"lat":18.56,"s":1.2,"d":25},{"lon":-99.06,"lat":18.56,"s":1.2,"d":10},{"lon":-98.69,"lat":18.56,"s":1.2,"d":30},{"lon":-98.31,"lat":18.56,"s":1.8,"d":35},{"lon":-97.94,"lat":18.56,"s":1.8,"d":40},{"lon":-97.56,"lat":18.56,"s":1.2,"d":45},{"lon":-97.19,"lat":18.56,"s":0.8,"d":300},
{"lon":-101.31,"lat":18.19,"s":0.8,"d":90},{"lon":-100.94,"lat":18.19,"s":0.4,"d":60},{"lon":-100.56,"lat":18.19,"s":0.8,"d":40},{"lon":-100.19,"lat":18.19,"s":1.2,"d":55},{"lon":-99.81,"lat":18.19,"s":0.8,"d":85},{"lon":-99.44,"lat":18.19,"s":0.8,"d":80},{"lon":-99.06,"lat":18.19,"s":0.4,"d":80},{"lon":-98.69,"lat":18.19,"s":0.4,"d":85},{"lon":-98.31,"lat":18.19,"s":0.8,"d":90},{"lon":-97.94,"lat":18.19,"s":0.8,"d":90},{"lon":-97.56,"lat":18.19,"s":0.4,"d":90},{"lon":-97.19,"lat":18.19,"s":0.8,"d":90}],
"WP7":[
{"lon":-101.31,"lat":20.81,"s":0.8,"d":60},{"lon":-100.94,"lat":20.81,"s":0.8,"d":60},{"lon":-100.56,"lat":20.81,"s":0.8,"d":70},{"lon":-100.19,"lat":20.81,"s":0.8,"d":60},{"lon":-99.81,"lat":20.81,"s":0.4,"d":10},{"lon":-99.44,"lat":20.81,"s":0.8,"d":340},{"lon":-99.06,"lat":20.81,"s":0.8,"d":15},{"lon":-98.69,"lat":20.81,"s":0.8,"d":20},{"lon":-98.31,"lat":20.81,"s":1.8,"d":30},{"lon":-97.94,"lat":20.81,"s":1.2,"d":0},{"lon":-97.56,"lat":20.81,"s":1.2,"d":0},{"lon":-97.19,"lat":20.81,"s":2.2,"d":170},
{"lon":-101.31,"lat":20.44,"s":0.4,"d":90},{"lon":-100.94,"lat":20.44,"s":0.4,"d":90},{"lon":-100.56,"lat":20.44,"s":0.8,"d":100},{"lon":-100.19,"lat":20.44,"s":0.8,"d":110},{"lon":-99.81,"lat":20.44,"s":0.8,"d":150},{"lon":-99.44,"lat":20.44,"s":0.8,"d":170},{"lon":-99.06,"lat":20.44,"s":0.8,"d":170},{"lon":-98.69,"lat":20.44,"s":0.8,"d":180},{"lon":-98.31,"lat":20.44,"s":1.2,"d":215},{"lon":-97.94,"lat":20.44,"s":1.8,"d":215},{"lon":-97.56,"lat":20.44,"s":1.2,"d":210},{"lon":-97.19,"lat":20.44,"s":1.2,"d":175},
{"lon":-101.31,"lat":20.06,"s":0.8,"d":90},{"lon":-100.94,"lat":20.06,"s":0.8,"d":90},{"lon":-100.56,"lat":20.06,"s":0.8,"d":90},{"lon":-100.19,"lat":20.06,"s":1.2,"d":90},{"lon":-99.81,"lat":20.06,"s":0.8,"d":120},{"lon":-99.44,"lat":20.06,"s":0.8,"d":165},{"lon":-99.06,"lat":20.06,"s":0.8,"d":120},{"lon":-98.69,"lat":20.06,"s":0.8,"d":140},{"lon":-98.31,"lat":20.06,"s":0.8,"d":200},{"lon":-97.94,"lat":20.06,"s":1.8,"d":205},{"lon":-97.56,"lat":20.06,"s":1.8,"d":200},{"lon":-97.19,"lat":20.06,"s":1.2,"d":175},
{"lon":-101.31,"lat":19.69,"s":1.2,"d":350},{"lon":-100.94,"lat":19.69,"s":1.2,"d":0},{"lon":-100.56,"lat":19.69,"s":1.2,"d":15},{"lon":-100.19,"lat":19.69,"s":1.2,"d":30},{"lon":-99.81,"lat":19.69,"s":1.2,"d":60},{"lon":-99.44,"lat":19.69,"s":1.2,"d":85},{"lon":-99.06,"lat":19.69,"s":0.8,"d":100},{"lon":-98.69,"lat":19.69,"s":1.2,"d":115},{"lon":-98.31,"lat":19.69,"s":0.8,"d":100},{"lon":-97.94,"lat":19.69,"s":1.2,"d":170},{"lon":-97.56,"lat":19.69,"s":1.2,"d":185},{"lon":-97.19,"lat":19.69,"s":0.8,"d":180},
{"lon":-101.31,"lat":19.31,"s":1.8,"d":350},{"lon":-100.94,"lat":19.31,"s":1.8,"d":0},{"lon":-100.56,"lat":19.31,"s":1.8,"d":15},{"lon":-100.19,"lat":19.31,"s":2.2,"d":55},{"lon":-99.81,"lat":19.31,"s":1.8,"d":70},{"lon":-99.44,"lat":19.31,"s":1.2,"d":80},{"lon":-99.06,"lat":19.31,"s":0.8,"d":80},{"lon":-98.69,"lat":19.31,"s":0.8,"d":100},{"lon":-98.31,"lat":19.31,"s":0.8,"d":50},{"lon":-97.94,"lat":19.31,"s":0.8,"d":80},{"lon":-97.56,"lat":19.31,"s":0.8,"d":260},{"lon":-97.19,"lat":19.31,"s":1.2,"d":280},
{"lon":-101.31,"lat":18.94,"s":1.8,"d":355},{"lon":-100.94,"lat":18.94,"s":1.8,"d":5},{"lon":-100.56,"lat":18.94,"s":1.8,"d":15},{"lon":-100.19,"lat":18.94,"s":1.8,"d":65},{"lon":-99.81,"lat":18.94,"s":1.8,"d":65},{"lon":-99.44,"lat":18.94,"s":1.8,"d":15},{"lon":-99.06,"lat":18.94,"s":1.8,"d":0},{"lon":-98.69,"lat":18.94,"s":1.2,"d":20},{"lon":-98.31,"lat":18.94,"s":1.8,"d":10},{"lon":-97.94,"lat":18.94,"s":1.8,"d":10},{"lon":-97.56,"lat":18.94,"s":1.2,"d":30},{"lon":-97.19,"lat":18.94,"s":1.2,"d":290},
{"lon":-101.31,"lat":18.56,"s":1.2,"d":350},{"lon":-100.94,"lat":18.56,"s":1.2,"d":0},{"lon":-100.56,"lat":18.56,"s":1.2,"d":35},{"lon":-100.19,"lat":18.56,"s":1.2,"d":60},{"lon":-99.81,"lat":18.56,"s":1.2,"d":45},{"lon":-99.44,"lat":18.56,"s":1.2,"d":0},{"lon":-99.06,"lat":18.56,"s":1.2,"d":355},{"lon":-98.69,"lat":18.56,"s":1.2,"d":5},{"lon":-98.31,"lat":18.56,"s":1.2,"d":0},{"lon":-97.94,"lat":18.56,"s":1.2,"d":5},{"lon":-97.56,"lat":18.56,"s":1.2,"d":40},{"lon":-97.19,"lat":18.56,"s":1.2,"d":290},
{"lon":-101.31,"lat":18.19,"s":0.8,"d":90},{"lon":-100.94,"lat":18.19,"s":0.8,"d":45},{"lon":-100.56,"lat":18.19,"s":0.8,"d":45},{"lon":-100.19,"lat":18.19,"s":0.8,"d":60},{"lon":-99.81,"lat":18.19,"s":1.2,"d":75},{"lon":-99.44,"lat":18.19,"s":0.8,"d":80},{"lon":-99.06,"lat":18.19,"s":0.4,"d":90},{"lon":-98.69,"lat":18.19,"s":0.4,"d":80},{"lon":-98.31,"lat":18.19,"s":0.4,"d":85},{"lon":-97.94,"lat":18.19,"s":0.4,"d":90},{"lon":-97.56,"lat":18.19,"s":0.4,"d":90},{"lon":-97.19,"lat":18.19,"s":0.8,"d":90}],
"bands":[{"lo":0,"hi":0.5},{"lo":0.5,"hi":1},{"lo":1,"hi":1.5},{"lo":1.5,"hi":2},{"lo":2,"hi":2.5},{"lo":2.5,"hi":3},{"lo":3,"hi":3.5},{"lo":3.5,"hi":4}],
"site":[{"lon":-99.11,"lat":19.42}]},
"concat":[
{"title":"WP1","width":263,"height":176,"encoding":{"x":{"field":"lon","type":"quantitative","scale":{"domain":[-101.5,-97],"nice":false},"axis":{"values":[-101,-100,-99,-98,-97],"title":"Longitude (°E)"}},"y":{"field":"lat","type":"quantitative","scale":{"domain":[18,21],"nice":false},"axis":{"values":[18,18.5,19,19.5,20,20.5,21],"format":"~g","title":"Latitude (°N)"}}},"layer":[
{"data":{"name":"WP1"},"mark":{"type":"rect","width":22.5,"height":22.5,"clip":true},"encoding":{"color":{"field":"s","type":"quantitative","legend":null,"scale":{"type":"threshold","domain":[0.5,1,1.5,2,2.5,3,3.5],"range":["#00b8dc","#00a8ee","#0098fb","#5c8cf5","#8c70ea","#a848dc","#c000c8","#e000b0"]}}}},
{"data":{"name":"borders"},"mark":{"type":"line","color":"#1a1a1a","strokeWidth":1,"clip":true},"encoding":{"detail":{"field":"id"},"order":{"value":null}}},
{"data":{"name":"WP1"},"mark":{"type":"point","filled":true,"color":"#000000","opacity":1,"clip":true,"shape":"M-0.03,0.5L0.03,0.5L0.03,-0.2L0.14,-0.2L0,-0.5L-0.14,-0.2L-0.03,-0.2Z"},"encoding":{"angle":{"field":"d","type":"quantitative","scale":null},"size":{"field":"s","type":"quantitative","legend":null,"scale":{"type":"pow","exponent":2,"domain":[0,4],"range":[100,4096]}}}},
{"data":{"name":"site"},"mark":{"type":"point","filled":true,"color":"#111111","opacity":1,"size":1000,"shape":"M0,-0.5L0.12,-0.16L0.48,-0.16L0.19,0.06L0.29,0.4L0,0.2L-0.29,0.4L-0.19,0.06L-0.48,-0.16L-0.12,-0.16Z"}}]},
{"title":"WP2","width":263,"height":176,"encoding":{"x":{"field":"lon","type":"quantitative","scale":{"domain":[-101.5,-97],"nice":false},"axis":{"values":[-101,-100,-99,-98,-97],"title":"Longitude (°E)"}},"y":{"field":"lat","type":"quantitative","scale":{"domain":[18,21],"nice":false},"axis":{"values":[18,18.5,19,19.5,20,20.5,21],"format":"~g","title":"Latitude (°N)"}}},"layer":[
{"data":{"name":"WP2"},"mark":{"type":"rect","width":22.5,"height":22.5,"clip":true},"encoding":{"color":{"field":"s","type":"quantitative","legend":null,"scale":{"type":"threshold","domain":[0.5,1,1.5,2,2.5,3,3.5],"range":["#00b8dc","#00a8ee","#0098fb","#5c8cf5","#8c70ea","#a848dc","#c000c8","#e000b0"]}}}},
{"data":{"name":"borders"},"mark":{"type":"line","color":"#1a1a1a","strokeWidth":1,"clip":true},"encoding":{"detail":{"field":"id"},"order":{"value":null}}},
{"data":{"name":"WP2"},"mark":{"type":"point","filled":true,"color":"#000000","opacity":1,"clip":true,"shape":"M-0.03,0.5L0.03,0.5L0.03,-0.2L0.14,-0.2L0,-0.5L-0.14,-0.2L-0.03,-0.2Z"},"encoding":{"angle":{"field":"d","type":"quantitative","scale":null},"size":{"field":"s","type":"quantitative","legend":null,"scale":{"type":"pow","exponent":2,"domain":[0,4],"range":[100,4096]}}}}]},
{"title":"WP3","width":263,"height":176,"encoding":{"x":{"field":"lon","type":"quantitative","scale":{"domain":[-101.5,-97],"nice":false},"axis":{"values":[-101,-100,-99,-98,-97],"title":"Longitude (°E)"}},"y":{"field":"lat","type":"quantitative","scale":{"domain":[18,21],"nice":false},"axis":{"values":[18,18.5,19,19.5,20,20.5,21],"format":"~g","title":"Latitude (°N)"}}},"layer":[
{"data":{"name":"WP3"},"mark":{"type":"rect","width":22.5,"height":22.5,"clip":true},"encoding":{"color":{"field":"s","type":"quantitative","legend":null,"scale":{"type":"threshold","domain":[0.5,1,1.5,2,2.5,3,3.5],"range":["#00b8dc","#00a8ee","#0098fb","#5c8cf5","#8c70ea","#a848dc","#c000c8","#e000b0"]}}}},
{"data":{"name":"borders"},"mark":{"type":"line","color":"#1a1a1a","strokeWidth":1,"clip":true},"encoding":{"detail":{"field":"id"},"order":{"value":null}}},
{"data":{"name":"WP3"},"mark":{"type":"point","filled":true,"color":"#000000","opacity":1,"clip":true,"shape":"M-0.03,0.5L0.03,0.5L0.03,-0.2L0.14,-0.2L0,-0.5L-0.14,-0.2L-0.03,-0.2Z"},"encoding":{"angle":{"field":"d","type":"quantitative","scale":null},"size":{"field":"s","type":"quantitative","legend":null,"scale":{"type":"pow","exponent":2,"domain":[0,4],"range":[100,4096]}}}}]},
{"title":"WP4","width":263,"height":176,"encoding":{"x":{"field":"lon","type":"quantitative","scale":{"domain":[-101.5,-97],"nice":false},"axis":{"values":[-101,-100,-99,-98,-97],"title":"Longitude (°E)"}},"y":{"field":"lat","type":"quantitative","scale":{"domain":[18,21],"nice":false},"axis":{"values":[18,18.5,19,19.5,20,20.5,21],"format":"~g","title":"Latitude (°N)"}}},"layer":[
{"data":{"name":"WP4"},"mark":{"type":"rect","width":22.5,"height":22.5,"clip":true},"encoding":{"color":{"field":"s","type":"quantitative","legend":null,"scale":{"type":"threshold","domain":[0.5,1,1.5,2,2.5,3,3.5],"range":["#00b8dc","#00a8ee","#0098fb","#5c8cf5","#8c70ea","#a848dc","#c000c8","#e000b0"]}}}},
{"data":{"name":"borders"},"mark":{"type":"line","color":"#1a1a1a","strokeWidth":1,"clip":true},"encoding":{"detail":{"field":"id"},"order":{"value":null}}},
{"data":{"name":"WP4"},"mark":{"type":"point","filled":true,"color":"#000000","opacity":1,"clip":true,"shape":"M-0.03,0.5L0.03,0.5L0.03,-0.2L0.14,-0.2L0,-0.5L-0.14,-0.2L-0.03,-0.2Z"},"encoding":{"angle":{"field":"d","type":"quantitative","scale":null},"size":{"field":"s","type":"quantitative","legend":null,"scale":{"type":"pow","exponent":2,"domain":[0,4],"range":[100,4096]}}}}]},
{"title":"WP5","width":263,"height":176,"encoding":{"x":{"field":"lon","type":"quantitative","scale":{"domain":[-101.5,-97],"nice":false},"axis":{"values":[-101,-100,-99,-98,-97],"title":"Longitude (°E)"}},"y":{"field":"lat","type":"quantitative","scale":{"domain":[18,21],"nice":false},"axis":{"values":[18,18.5,19,19.5,20,20.5,21],"format":"~g","title":"Latitude (°N)"}}},"layer":[
{"data":{"name":"WP5"},"mark":{"type":"rect","width":22.5,"height":22.5,"clip":true},"encoding":{"color":{"field":"s","type":"quantitative","legend":null,"scale":{"type":"threshold","domain":[0.5,1,1.5,2,2.5,3,3.5],"range":["#00b8dc","#00a8ee","#0098fb","#5c8cf5","#8c70ea","#a848dc","#c000c8","#e000b0"]}}}},
{"data":{"name":"borders"},"mark":{"type":"line","color":"#1a1a1a","strokeWidth":1,"clip":true},"encoding":{"detail":{"field":"id"},"order":{"value":null}}},
{"data":{"name":"WP5"},"mark":{"type":"point","filled":true,"color":"#000000","opacity":1,"clip":true,"shape":"M-0.03,0.5L0.03,0.5L0.03,-0.2L0.14,-0.2L0,-0.5L-0.14,-0.2L-0.03,-0.2Z"},"encoding":{"angle":{"field":"d","type":"quantitative","scale":null},"size":{"field":"s","type":"quantitative","legend":null,"scale":{"type":"pow","exponent":2,"domain":[0,4],"range":[100,4096]}}}}]},
{"title":"WP6","width":263,"height":176,"encoding":{"x":{"field":"lon","type":"quantitative","scale":{"domain":[-101.5,-97],"nice":false},"axis":{"values":[-101,-100,-99,-98,-97],"title":"Longitude (°E)"}},"y":{"field":"lat","type":"quantitative","scale":{"domain":[18,21],"nice":false},"axis":{"values":[18,18.5,19,19.5,20,20.5,21],"format":"~g","title":"Latitude (°N)"}}},"layer":[
{"data":{"name":"WP6"},"mark":{"type":"rect","width":22.5,"height":22.5,"clip":true},"encoding":{"color":{"field":"s","type":"quantitative","legend":null,"scale":{"type":"threshold","domain":[0.5,1,1.5,2,2.5,3,3.5],"range":["#00b8dc","#00a8ee","#0098fb","#5c8cf5","#8c70ea","#a848dc","#c000c8","#e000b0"]}}}},
{"data":{"name":"borders"},"mark":{"type":"line","color":"#1a1a1a","strokeWidth":1,"clip":true},"encoding":{"detail":{"field":"id"},"order":{"value":null}}},
{"data":{"name":"WP6"},"mark":{"type":"point","filled":true,"color":"#000000","opacity":1,"clip":true,"shape":"M-0.03,0.5L0.03,0.5L0.03,-0.2L0.14,-0.2L0,-0.5L-0.14,-0.2L-0.03,-0.2Z"},"encoding":{"angle":{"field":"d","type":"quantitative","scale":null},"size":{"field":"s","type":"quantitative","legend":null,"scale":{"type":"pow","exponent":2,"domain":[0,4],"range":[100,4096]}}}}]},
{"title":"WP7","width":263,"height":176,"encoding":{"x":{"field":"lon","type":"quantitative","scale":{"domain":[-101.5,-97],"nice":false},"axis":{"values":[-101,-100,-99,-98,-97],"title":"Longitude (°E)"}},"y":{"field":"lat","type":"quantitative","scale":{"domain":[18,21],"nice":false},"axis":{"values":[18,18.5,19,19.5,20,20.5,21],"format":"~g","title":"Latitude (°N)"}}},"layer":[
{"data":{"name":"WP7"},"mark":{"type":"rect","width":22.5,"height":22.5,"clip":true},"encoding":{"color":{"field":"s","type":"quantitative","legend":null,"scale":{"type":"threshold","domain":[0.5,1,1.5,2,2.5,3,3.5],"range":["#00b8dc","#00a8ee","#0098fb","#5c8cf5","#8c70ea","#a848dc","#c000c8","#e000b0"]}}}},
{"data":{"name":"borders"},"mark":{"type":"line","color":"#1a1a1a","strokeWidth":1,"clip":true},"encoding":{"detail":{"field":"id"},"order":{"value":null}}},
{"data":{"name":"WP7"},"mark":{"type":"point","filled":true,"color":"#000000","opacity":1,"clip":true,"shape":"M-0.03,0.5L0.03,0.5L0.03,-0.2L0.14,-0.2L0,-0.5L-0.14,-0.2L-0.03,-0.2Z"},"encoding":{"angle":{"field":"d","type":"quantitative","scale":null},"size":{"field":"s","type":"quantitative","legend":null,"scale":{"type":"pow","exponent":2,"domain":[0,4],"range":[100,4096]}}}}]},
{"title":{"text":"m/s","fontSize":12,"fontWeight":"normal","anchor":"end","frame":"group","dx":-3,"color":"#222222","offset":-2},"width":68,"height":180,"view":{"stroke":null},"data":{"name":"bands"},"mark":{"type":"rect"},"encoding":{"x":{"datum":37,"type":"quantitative","scale":{"domain":[0,68]},"axis":null},"x2":{"datum":68},"y":{"field":"lo","type":"quantitative","scale":{"domain":[0,4],"nice":false},"axis":{"orient":"right","values":[0,1,2,3,4],"title":null,"labelFontSize":12,"tickSize":2}},"y2":{"field":"hi"},"color":{"field":"lo","type":"quantitative","legend":null,"scale":{"type":"threshold","domain":[0.5,1,1.5,2,2.5,3,3.5],"range":["#00b8dc","#00a8ee","#0098fb","#5c8cf5","#8c70ea","#a848dc","#c000c8","#e000b0"]}}}}
]}
